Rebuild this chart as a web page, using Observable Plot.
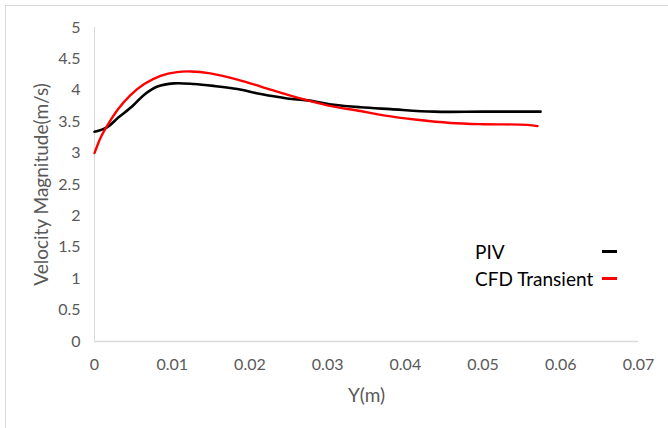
<!DOCTYPE html>
<html>
<head>
<meta charset="utf-8">
<script src="https://cdn.jsdelivr.net/npm/d3@7"></script>
<script src="https://cdn.jsdelivr.net/npm/@observablehq/plot@0.6"></script>
<style>
  html, body { margin: 0; padding: 0; background: #fff; }
  #wrap { position: relative; width: 668px; height: 428px; overflow: hidden; font-family: Lato, "Open Sans", sans-serif; }
  #border { position: absolute; left: 5px; top: 5px; width: 700px; height: 500px; border: 1.5px solid #d9d9d9; box-sizing: border-box; pointer-events: none; }
  #legend { position: absolute; left: 475px; top: 238px; font-size: 19px; color: #000; }
  #legend .row { display: flex; align-items: center; height: 27px; white-space: nowrap; }
  #legend .lab { width: 127px; flex: 0 0 127px; }
  #legend .sw { width: 15px; height: 2.5px; flex: 0 0 15px; }
</style>
</head>
<body>
<div id="wrap">
  <div id="chart"></div>
  <div id="border"></div>
  <div id="legend"></div>
</div>
<script>
const seriesNames = ["PIV", "CFD Transient"];
const seriesColors = ["#000000", "#ff0000"];

const pivX = [0, 0.0016, 0.0031, 0.0049, 0.0064, 0.0081, 0.0102, 0.0128, 0.0153, 0.0184, 0.0214, 0.0248, 0.0274, 0.0308, 0.0342, 0.0381, 0.0437, 0.0500, 0.0574];
const pivV = [3.34, 3.41, 3.57, 3.75, 3.93, 4.06, 4.11, 4.10, 4.07, 4.02, 3.94, 3.87, 3.84, 3.77, 3.73, 3.70, 3.66, 3.66, 3.66];

const cfdX = [0, 0.0008, 0.0018, 0.0031, 0.0046, 0.0064, 0.0085, 0.0106, 0.0124, 0.0149, 0.0184, 0.0214, 0.0248, 0.0274, 0.0308, 0.0342, 0.0372, 0.0415, 0.0458, 0.0501, 0.0557, 0.0570];
const cfdV = [3.00, 3.25, 3.47, 3.71, 3.92, 4.10, 4.23, 4.29, 4.30, 4.27, 4.17, 4.06, 3.93, 3.84, 3.74, 3.67, 3.60, 3.53, 3.48, 3.46, 3.45, 3.43];

const xTicks = [0, 0.01, 0.02, 0.03, 0.04, 0.05, 0.06, 0.07];
const yTicks = [0, 0.5, 1, 1.5, 2, 2.5, 3, 3.5, 4, 4.5, 5];

const piv = pivX.map((x, i) => ({x, v: pivV[i], s: seriesNames[0]}));
const cfd = cfdX.map((x, i) => ({x, v: cfdV[i], s: seriesNames[1]}));

const fontFamily = "Lato, 'Open Sans', sans-serif";

const chart = Plot.plot({
  width: 668,
  height: 428,
  marginLeft: 94,
  marginRight: 30,
  marginTop: 27,
  marginBottom: 87,
  style: {fontFamily, fontSize: "16px", color: "#595959", background: "#fff"},
  x: {domain: [0, 0.07], ticks: xTicks},
  y: {domain: [0, 5], ticks: yTicks},
  marks: [
    Plot.ruleX([0], {stroke: "#d9d9d9", strokeWidth: 1}),
    Plot.ruleY([0], {stroke: "#d9d9d9", strokeWidth: 1.5}),
    Plot.axisX({ticks: xTicks, tickSize: 0, tickPadding: 17, tickFormat: d => String(d), fontSize: 16,
      label: "Y(m)", labelAnchor: "center", labelOffset: 60, labelArrow: "none"}),
    Plot.axisY({ticks: yTicks, tickSize: 0, tickPadding: 14, tickFormat: d => String(d), fontSize: 16,
      label: "Velocity Magnitude(m/s)", labelAnchor: "center", labelOffset: 60, labelArrow: "none"}),
    Plot.line(piv, {x: "x", y: "v", stroke: seriesColors[0], strokeWidth: 2.6, curve: "catmull-rom"}),
    Plot.line(cfd, {x: "x", y: "v", stroke: seriesColors[1], strokeWidth: 2.4, curve: "catmull-rom"})
  ]
});
document.getElementById("chart").appendChild(chart);

const svg = d3.select(chart);
svg.selectAll("text").style("font-family", fontFamily);
svg.selectAll("g[aria-label='x-axis tick label'] text, g[aria-label='y-axis tick label'] text")
  .style("font-size", "16px").style("fill", "#595959");
svg.selectAll("g[aria-label='x-axis label'] text, g[aria-label='y-axis label'] text")
  .style("font-size", "19px").style("fill", "#595959");

const legend = d3.select("#legend");
seriesNames.forEach((n, i) => {
  const row = legend.append("div").attr("class", "row");
  row.append("div").attr("class", "lab").text(n);
  row.append("div").attr("class", "sw").style("background", seriesColors[i]);
});
</script>
</body>
</html>
